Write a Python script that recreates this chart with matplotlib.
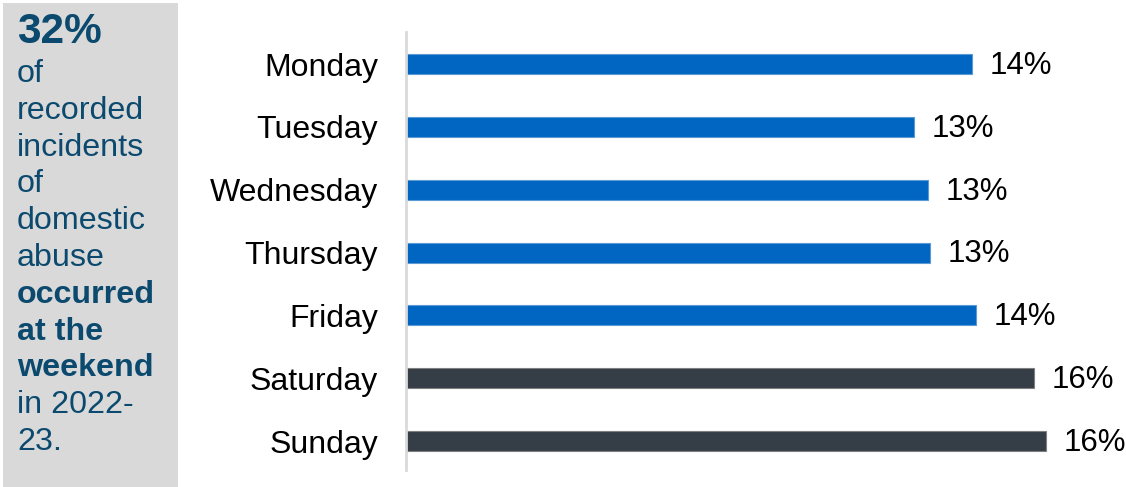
import matplotlib.pyplot as plt
from matplotlib.patches import Rectangle

plt.rcParams['font.family'] = ['Liberation Sans', 'DejaVu Sans']

# data
days = ['Monday', 'Tuesday', 'Wednesday', 'Thursday', 'Friday', 'Saturday', 'Sunday']
share = [14.15, 12.7, 13.05, 13.1, 14.25, 15.7, 16.0]
share_labels = ['14%', '13%', '13%', '13%', '14%', '16%', '16%']
weekend = [False, False, False, False, False, True, True]

side_lines = ['of', 'recorded', 'incidents', 'of', 'domestic', 'abuse',
              'occurred', 'at the', 'weekend', 'in 2022-', '23.']
side_bold = [False, False, False, False, False, False, True, True, True, False, False]

W, H = 1126, 487
fig = plt.figure(figsize=(W / 100, H / 100), dpi=100)
fig.patch.set_facecolor('white')

# side panel
fig.patches.append(Rectangle((3 / W, 0), 175 / W, 1 - 3 / H, transform=fig.transFigure,
                             facecolor='#d9d9d9', edgecolor='none', zorder=0))
txt_col = '#0b4a6e'
fig.text(17 / W, 1 - 43 / H, '32%', fontsize=30.5, fontweight='bold', color=txt_col,
         va='baseline', ha='left')
for i, (line, b) in enumerate(zip(side_lines, side_bold)):
    fig.text(17 / W, 1 - (82 + i * 36.8) / H, line, fontsize=23.2,
             fontweight='bold' if b else 'normal', color=txt_col, va='baseline', ha='left')

# bar chart
ax = fig.add_axes([406 / W, 1 - 470 / H, 720 / W, 438 / H])
y = range(len(days))
colors = ['#353d47' if w else '#0066c2' for w in weekend]
edges = ['#7f7f7f' if w else '#5b9bd5' for w in weekend]
ax.barh(y, share, height=0.32, color=colors, edgecolor=edges, linewidth=0.8)
for yi, v, lab in zip(y, share, share_labels):
    ax.text(v + 0.45, yi + 0.03, lab, va='center', ha='left', fontsize=22.5, color='black')

ax.set_xlim(0, 18)
ax.set_ylim(6.46, -0.51)
ax.set_yticks(list(y))
ax.set_yticklabels(days, fontsize=23)
ax.tick_params(axis='y', length=0, pad=20)
ax.set_xticks([])
for s in ['top', 'right', 'bottom']:
    ax.spines[s].set_visible(False)
ax.spines['left'].set_color('#d9d9d9')
ax.spines['left'].set_linewidth(2)
ax.set_facecolor('none')

fig.savefig('out.png', dpi=100)
